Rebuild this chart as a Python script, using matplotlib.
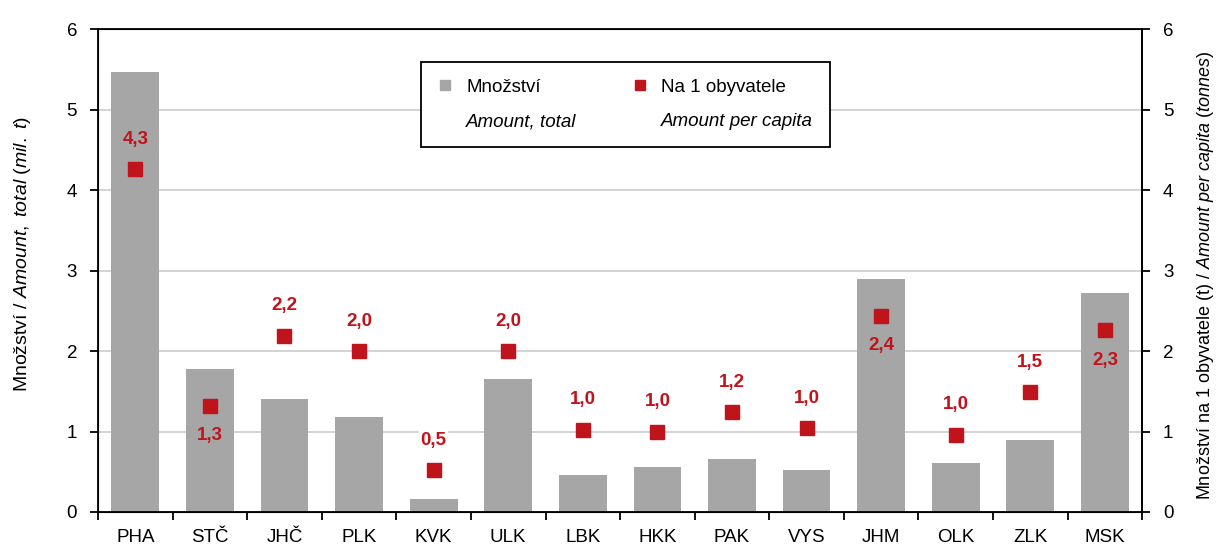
import numpy as np
import matplotlib.pyplot as plt
from matplotlib.patches import Rectangle
from matplotlib.lines import Line2D

# data -------------------------------------------------------------------------
regions = ["PHA", "STČ", "JHČ", "PLK", "KVK", "ULK", "LBK",
           "HKK", "PAK", "VYS", "JHM", "OLK", "ZLK", "MSK"]
amount_total = [5.47, 1.78, 1.40, 1.18, 0.16, 1.65, 0.46,
                0.56, 0.66, 0.52, 2.89, 0.61, 0.89, 2.72]   # mil. t
per_capita = [4.26, 1.32, 2.19, 2.00, 0.52, 2.00, 1.02,
              1.00, 1.24, 1.04, 2.44, 0.96, 1.49, 2.26]     # t
label_below = ["STČ", "JHM", "MSK"]   # labels sitting under the marker

bar_col = "#a6a6a6"
red = "#c0141c"

plt.rcParams["font.family"] = ["Liberation Sans", "DejaVu Sans"]
plt.rcParams["mathtext.fontset"] = "custom"
plt.rcParams["mathtext.it"] = "Liberation Sans:italic"
plt.rcParams["mathtext.rm"] = "Liberation Sans"

fig = plt.figure(figsize=(12.19, 5.51), dpi=100)
ax = fig.add_axes([0.0804, 0.0708, 0.8566, 0.8762])
x = np.arange(len(regions))

ax.bar(x, amount_total, width=0.64, color=bar_col, zorder=2)
ax.set_xlim(-0.5, len(regions) - 0.5)
ax.set_ylim(0, 6)
ax.set_yticks(range(7))
ax.yaxis.grid(True, color="#d0d0d0", linewidth=1.3, zorder=0)
ax.set_axisbelow(True)

ax.set_xticks(x)
ax.set_xticklabels(regions, fontsize=13.5)
ax.set_xticks(np.arange(-0.5, len(regions)), minor=True)
ax.tick_params(axis="x", which="major", length=0, pad=12)
ax.tick_params(axis="x", which="minor", length=6, width=1.3, direction="out")
ax.tick_params(axis="y", labelsize=13.5, length=6, width=1.3, pad=9)
for s in ax.spines.values():
    s.set_linewidth(1.3)
ax.set_ylabel("Množství / $\\it{Amount,\\ total\\ (mil.\\ t)}$", fontsize=14)
ax.yaxis.set_label_coords(-0.062, 0.535)

ax2 = ax.twinx()
ax2.set_ylim(0, 6)
ax2.set_yticks(range(7))
ax2.tick_params(axis="y", labelsize=13.5, length=6, width=1.3, pad=9)
ax2.spines["right"].set_linewidth(1.3)
ax2.plot(x, per_capita, linestyle="none", marker="s", markersize=10,
         color=red, zorder=3)
ax2.set_ylabel("Množství na 1 obyvatele (t) / $\\it{Amount\\ per\\ capita\\ (tonnes)}$",
               fontsize=13)
ax2.yaxis.set_label_coords(1.051, 0.49)

for xi, reg, v, tot in zip(x, regions, per_capita, amount_total):
    below = reg in label_below
    dy = -30 if below else 30
    txt = f"{v:.1f}".replace(".", ",")
    # labels above a bar get a white box, the ones over a bar don't
    box = None if tot > v else dict(facecolor="white", edgecolor="none", pad=1)
    ax2.annotate(txt, (xi, v), xytext=(0, dy), textcoords="offset pixels",
                 ha="center", va="center", color=red, fontsize=13.5,
                 fontweight="bold", bbox=box)

# legend: two columns, czech name on top, english in italics below
blank = Rectangle((0, 0), 1, 1, visible=False)
h_bar = Line2D([], [], linestyle="none", marker="s", markersize=7, color=bar_col)
h_pt = Line2D([], [], linestyle="none", marker="s", markersize=7, color=red)
leg = ax2.legend([h_bar, blank, h_pt, blank],
                 ["Množství", "Amount, total", "Na 1 obyvatele", "Amount per capita"],
                 ncol=2, loc="upper center", bbox_to_anchor=(0.505, 0.932),
                 fontsize=13.5, fancybox=False, framealpha=1, edgecolor="black",
                 handlelength=0.8, handletextpad=0.7, columnspacing=3.0,
                 labelspacing=0.9, borderpad=0.9, borderaxespad=0)
leg.get_frame().set_linewidth(1.3)
for i in (1, 3):
    leg.get_texts()[i].set_style("italic")

fig.savefig("out.png", dpi=100)
